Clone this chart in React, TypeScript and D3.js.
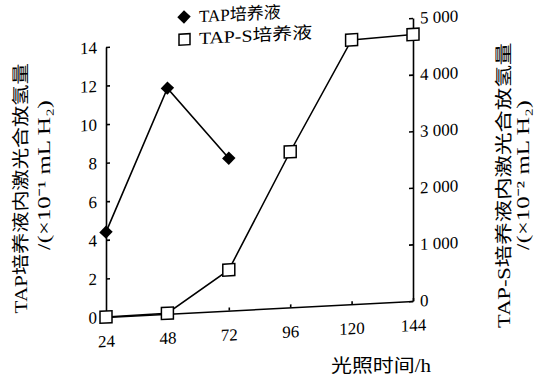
import React, { useEffect, useRef } from "react";
import * as d3 from "d3";

// hours of illumination
const hours = [24, 48, 72, 96, 120, 144];
// TAP medium, x10^-1 mL H2 (left axis)
const tapHours = [24, 48, 72];
const tapValues = [4.4, 11.7, 7.9];
// TAP-S medium, x10^-2 mL H2 (right axis)
const tapsValues = [0, 10, 720, 2750, 4670, 4710];
const leftTicks = [0, 2, 4, 6, 8, 10, 12, 14];
const rightTicks = [0, 1000, 2000, 3000, 4000, 5000];

const W = 534;
const H = 378;
const FONT = "'Liberation Serif', 'Times New Roman', 'Noto Sans CJK SC', serif";
const SKEW = -2.98; // scanned page is slightly sheared

const App = () => {
    const svgRef = useRef(null);

    useEffect(() => {
        const svg = d3.select(svgRef.current);
        svg.selectAll("*").remove();
        svg.style("font-family", FONT);

        const g = svg
            .append("g")
            .attr("transform", `translate(0,${106 * Math.tan((-SKEW * Math.PI) / 180)}) skewY(${SKEW})`);

        const x = d3.scaleLinear().domain([24, 144]).range([106, 413]);
        const yL = d3.scaleLinear().domain([0, 14]).range([317, 47]);
        const yR = d3.scaleLinear().domain([0, 5000]).range([317, 34]);

        // axes
        const ax = g
            .append("g")
            .attr("transform", `translate(0,${yL(0)})`)
            .call(d3.axisBottom(x).tickValues(hours).tickSize(-3).tickSizeOuter(0).tickPadding(18));
        const al = g
            .append("g")
            .attr("transform", `translate(${x(24)},0)`)
            .call(d3.axisLeft(yL).tickValues(leftTicks).tickSize(-4).tickSizeOuter(0).tickPadding(9));
        const ar = g
            .append("g")
            .attr("transform", `translate(${x(144)},0)`)
            .call(
                d3
                    .axisRight(yR)
                    .tickValues(rightTicks)
                    .tickSize(-4)
                    .tickSizeOuter(0)
                    .tickPadding(7)
                    .tickFormat((d) => (d === 0 ? "0" : d3.format(",")(d).replace(",", " ")))
            );
        [ax, al, ar].forEach((a) => {
            a.selectAll("path,line").attr("stroke", "#000").attr("stroke-width", 1.6);
            a.selectAll("text").style("font-family", FONT).style("font-size", "17px").attr("fill", "#000");
        });

        // lines
        const line = d3.line();
        g.append("path")
            .attr("d", line(hours.map((h, i) => [x(h), yR(tapsValues[i])])))
            .attr("fill", "none")
            .attr("stroke", "#000")
            .attr("stroke-width", 1.6);
        g.append("path")
            .attr("d", line(tapHours.map((h, i) => [x(h), yL(tapValues[i])])))
            .attr("fill", "none")
            .attr("stroke", "#000")
            .attr("stroke-width", 1.6);

        const diamond = d3.symbol().type(d3.symbolSquare).size(90);
        g.selectAll(".dia")
            .data(tapHours)
            .join("path")
            .attr("class", "dia")
            .attr("d", diamond)
            .attr("transform", (d, i) => `translate(${x(d)},${yL(tapValues[i])}) rotate(45)`)
            .attr("fill", "#000");

        g.selectAll(".sq")
            .data(hours)
            .join("rect")
            .attr("class", "sq")
            .attr("x", (d) => x(d) - 6)
            .attr("y", (d, i) => yR(tapsValues[i]) - 6)
            .attr("width", 12)
            .attr("height", 12)
            .attr("fill", "#fff")
            .attr("stroke", "#000")
            .attr("stroke-width", 1.5);

        // legend
        g.append("path").attr("d", diamond).attr("transform", "translate(184,21) rotate(45)").attr("fill", "#000");
        g.append("rect")
            .attr("x", 179)
            .attr("y", 38)
            .attr("width", 11)
            .attr("height", 11)
            .attr("fill", "#fff")
            .attr("stroke", "#000")
            .attr("stroke-width", 1.5);
        g.append("text").attr("x", 199).attr("y", 27).style("font-size", "17px").text("TAP培养液");
        g.append("text")
            .attr("x", 199)
            .attr("y", 49)
            .style("font-size", "17px")
            .attr("textLength", 113)
            .attr("lengthAdjust", "spacingAndGlyphs")
            .text("TAP-S培养液");

        // axis titles
        svg.append("text")
            .attr("text-anchor", "middle")
            .attr("x", 381)
            .attr("y", 372)
            .style("font-size", "18px")
            .attr("textLength", 100)
            .attr("lengthAdjust", "spacingAndGlyphs")
            .text("光照时间/h");

        const vtitle = (tx, ty, txt, len) =>
            g
                .append("text")
                .attr("text-anchor", "middle")
                .attr("transform", `translate(${tx},${ty}) rotate(-90)`)
                .style("font-size", "18px")
                .attr("textLength", len)
                .attr("lengthAdjust", "spacingAndGlyphs")
                .text(txt);
        vtitle(27, 184, "TAP培养液内激光合放氢量", 250);
        vtitle(50, 172, "/(×10⁻¹ mL H₂)", 150);
        vtitle(510, 206, "TAP-S培养液内激光合放氢量", 285);
        vtitle(529, 197, "/(×10⁻² mL H₂)", 150);
    }, []);

    return (
        <svg
            ref={svgRef}
            width={W}
            height={H}
            style={{ position: "absolute", left: 0, top: 0, background: "#fff" }}
        />
    );
};

export default App;
